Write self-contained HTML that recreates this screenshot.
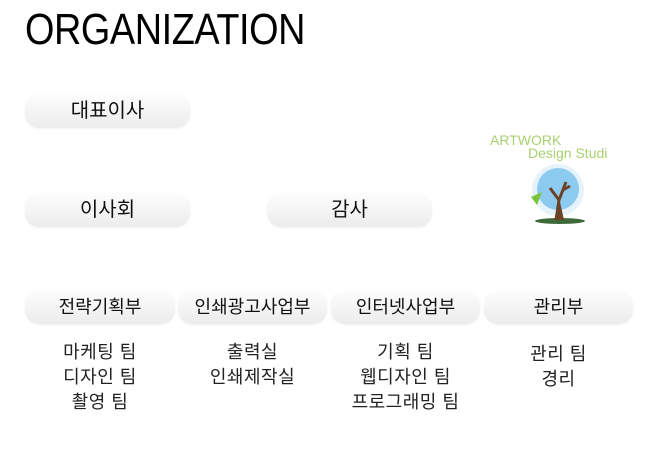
<!DOCTYPE html>
<html><head><meta charset="utf-8"><style>
body{margin:0;width:650px;height:460px;background:#fff;position:relative;overflow:hidden;font-family:"Liberation Sans","Noto Sans CJK KR",sans-serif}
.t{position:absolute;left:25px;top:4px;font-size:44px;line-height:52px;color:#000;transform:scaleX(0.86);transform-origin:left top;letter-spacing:-0.5px}
.p{position:absolute;height:34px;border-radius:14px;background:linear-gradient(#fdfdfd,#ececec);box-shadow:0 1px 2px rgba(0,0,0,0.06);text-align:center;line-height:34px;font-size:20px;color:#111}
.d{font-size:18px}
.l{position:absolute;text-align:center;font-size:18px;line-height:25px;color:#222;letter-spacing:0.5px}
</style></head><body>
<div class="t">ORGANIZATION</div>
<div class="p" style="left:25px;top:94px;width:165px;">대표이사</div>
<div class="p" style="left:25px;top:193px;width:165px;">이사회</div>
<div class="p" style="left:267px;top:193px;width:165px;">감사</div>
<div class="p d" style="left:25px;top:290px;width:150px;">전략기획부</div>
<div class="p d" style="left:178px;top:290px;width:149px;">인쇄광고사업부</div>
<div class="p d" style="left:331px;top:290px;width:149px;">인터넷사업부</div>
<div class="p d" style="left:484px;top:290px;width:149px;">관리부</div>
<div class="l" style="left:25px;top:340px;width:150px;">마케팅 팀<br>디자인 팀<br>촬영 팀</div>
<div class="l" style="left:178px;top:340px;width:149px;">출력실<br>인쇄제작실</div>
<div class="l" style="left:331px;top:340px;width:149px;">기획 팀<br>웹디자인 팀<br>프로그래밍 팀</div>
<div class="l" style="left:484px;top:342px;width:149px;">관리 팀<br>경리</div>
<svg style="position:absolute;left:480px;top:120px" width="140" height="110">
<text x="10" y="25" font-family="Liberation Sans" font-size="14" fill="#a8d070">ARTWORK</text>
<text x="48" y="38" font-family="Liberation Sans" font-size="14" fill="#a8d070">Design Studi</text>
<circle cx="78" cy="70" r="26" fill="#e6f3fb"/>
<circle cx="78" cy="69" r="21" fill="#8ccaf0"/>
<ellipse cx="80" cy="101" rx="25" ry="3" fill="#3d6a3a"/>
<path d="M76 100 L79 80 L70 68 M79 80 L86 62 M83 70 L90 66" stroke="#6b4226" stroke-width="3" fill="none"/>
<path d="M74 100 L84 100 L80 82 Z" fill="#6b4226"/>
<path d="M51 77 L62 72 L57 85 Z" fill="#7bc53a"/>
</svg>
</body></html>
